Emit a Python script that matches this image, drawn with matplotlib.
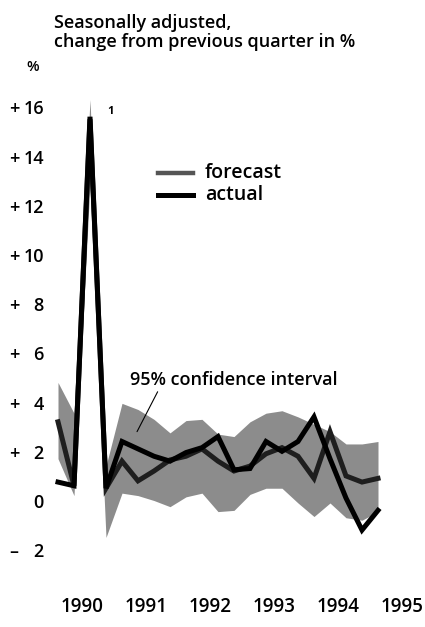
import pandas as pd
import matplotlib
matplotlib.use("Agg")
import matplotlib.pyplot as plt
from matplotlib.transforms import blended_transform_factory

plt.rcParams["font.family"] = ["Open Sans", "DejaVu Sans"]
plt.rcParams["font.weight"] = "semibold"

# quarterly data, 1990Q1 .. 1995Q1
periods = pd.period_range("1990Q1", "1995Q1", freq="Q")
forecast = [3.3, 0.7, 15.6, 0.6, 1.7, 0.9, 1.3, 1.75, 1.9, 2.2, 1.7, 1.3, 1.5,
            2.0, 2.25, 1.9, 1.0, 2.9, 1.1, 0.85, 1.0]
actual = [0.85, 0.7, 15.7, 0.6, 2.5, 2.2, 1.9, 1.7, 2.05, 2.25, 2.7, 1.35, 1.4,
          2.5, 2.1, 2.5, 3.5, 1.8, 0.2, -1.1, -0.3]
ci_lower = [1.8, 0.3, 13.0, -1.4, 0.4, 0.3, 0.1, -0.15, 0.25, 0.4, -0.35, -0.3,
            0.35, 0.6, 0.6, 0.0, -0.55, 0.0, -0.6, -0.7, -0.35]
ci_upper = [4.9, 3.65, 16.4, 1.5, 4.05, 3.8, 3.4, 2.85, 3.35, 3.4, 2.8, 2.7,
            3.3, 3.65, 3.75, 3.5, 3.2, 2.9, 2.4, 2.4, 2.5]

yticks = [16, 14, 12, 10, 8, 6, 4, 2, 0, -2]
years = [1990, 1991, 1992, 1993, 1994, 1995]

x = [p.year + (p.quarter - 0.5) / 4 for p in periods]

W, H = 425, 627
fig = plt.figure(figsize=(W / 100, H / 100), dpi=100)
ax = fig.add_axes([50 / W, (H - 564.5) / H, 370 / W, (564.5 - 94.6) / H])
ax.set_xlim(1990, 1990 + 370 / 64)
ax.set_ylim(-2.5, 16.6)
ax.axis("off")

ax.fill_between(x, ci_lower, ci_upper, color="#8c8c8c", lw=0, zorder=1)
ax.plot(x, forecast, color="#1e1e1e", lw=3.6, solid_joinstyle="miter", zorder=2)
ax.plot(x, actual, color="black", lw=3.6, solid_joinstyle="miter", zorder=3)

fs = 13
# y tick labels with separated signs
tr = blended_transform_factory(fig.transFigure, ax.transData)
for v in yticks:
    sign = "+" if v > 0 else ("\u2013" if v < 0 else "")
    if sign:
        ax.text(14 / W, v, sign, transform=tr, ha="center", va="center", fontsize=fs)
    ax.text(44 / W, v, str(abs(v)), transform=tr, ha="right", va="center", fontsize=fs)

# year labels centred on each year
trx = blended_transform_factory(ax.transData, fig.transFigure)
for yr in years:
    ax.text(yr + 0.5, 1 - 607 / H, str(yr), transform=trx, ha="center", va="center",
            fontsize=13.5)

fig.text(54 / W, 1 - 23 / H, "Seasonally adjusted,", fontsize=fs, va="center")
fig.text(54 / W, 1 - 42 / H, "change from previous quarter in %", fontsize=fs, va="center")
fig.text(33 / W, 1 - 67 / H, "%", fontsize=10.5, ha="center", va="center")
ax.text(1990.95, 15.9, "1", fontsize=8, fontweight="bold", ha="center", va="center")

# legend drawn by hand
ax.plot([1991.68, 1992.24], [13.4, 13.4], color="#555555", lw=3.2)
ax.plot([1991.68, 1992.24], [12.5, 12.5], color="black", lw=3.6)
ax.text(1992.42, 13.4, "forecast", fontsize=14, va="center")
ax.text(1992.42, 12.5, "actual", fontsize=14, va="center")

ax.annotate("95% confidence interval", xy=(1991.36, 2.9), xytext=(1991.25, 5.0),
            fontsize=fs, va="center",
            arrowprops=dict(arrowstyle="-", color="black", lw=0.8,
                            shrinkA=0, shrinkB=0, relpos=(0.14, 0.0)))

fig.savefig("out.png", dpi=100)
